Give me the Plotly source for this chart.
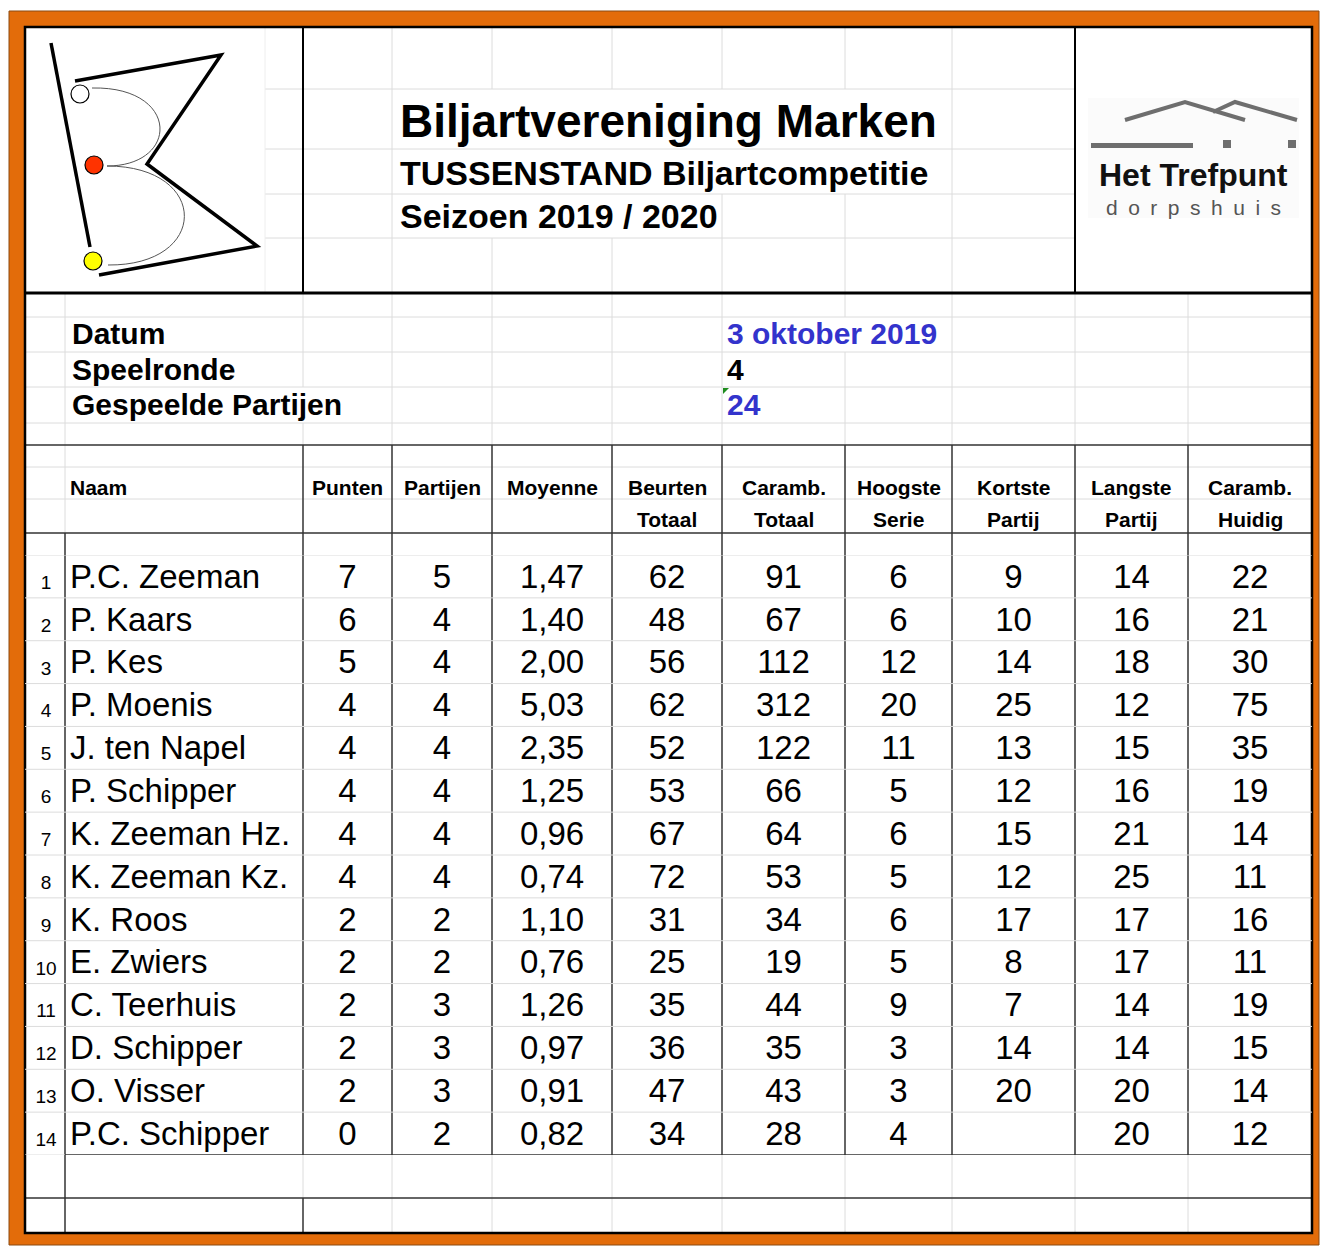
import plotly.graph_objects as go

# ---------------- data ----------------
ranks = [1, 2, 3, 4, 5, 6, 7, 8, 9, 10, 11, 12, 13, 14]
names = ["P.C. Zeeman", "P. Kaars", "P. Kes", "P. Moenis", "J. ten Napel", "P. Schipper",
         "K. Zeeman Hz.", "K. Zeeman Kz.", "K. Roos", "E. Zwiers", "C. Teerhuis",
         "D. Schipper", "O. Visser", "P.C. Schipper"]
punten = [7, 6, 5, 4, 4, 4, 4, 4, 2, 2, 2, 2, 2, 0]
partijen = [5, 4, 4, 4, 4, 4, 4, 4, 2, 2, 3, 3, 3, 2]
moyenne = [1.47, 1.40, 2.00, 5.03, 2.35, 1.25, 0.96, 0.74, 1.10, 0.76, 1.26, 0.97, 0.91, 0.82]
beurten_totaal = [62, 48, 56, 62, 52, 53, 67, 72, 31, 25, 35, 36, 47, 34]
caramb_totaal = [91, 67, 112, 312, 122, 66, 64, 53, 34, 19, 44, 35, 43, 28]
hoogste_serie = [6, 6, 12, 20, 11, 5, 6, 5, 6, 5, 9, 3, 3, 4]
kortste_partij = [9, 10, 14, 25, 13, 12, 15, 12, 17, 8, 7, 14, 20, None]
langste_partij = [14, 16, 18, 12, 15, 16, 21, 25, 17, 17, 14, 14, 20, 20]
caramb_huidig = [22, 21, 30, 75, 35, 19, 14, 11, 16, 11, 19, 15, 14, 12]

header_top = ["Naam", "Punten", "Partijen", "Moyenne", "Beurten", "Caramb.", "Hoogste",
              "Kortste", "Langste", "Caramb."]
header_bottom = ["", "", "", "", "Totaal", "Totaal", "Serie", "Partij", "Partij", "Huidig"]

title_lines = ["Biljartvereniging Marken", "TUSSENSTAND Biljartcompetitie", "Seizoen 2019 / 2020"]
info_labels = ["Datum", "Speelronde", "Gespeelde Partijen"]
info_values = ["3 oktober 2019", "4", "24"]

# ---------------- layout constants ----------------
W, H = 1320, 1246
FONT = "Liberation Sans, Arial, sans-serif"
ORANGE = "#E36C0A"
GRID = "#DCDCDC"
DARK = "#333333"
BLUE = "#3333CC"
L, R, T, B = 25, 1312, 27, 1233
col_bounds = [303, 392, 492, 612, 722, 845, 952, 1075, 1188, 1312]
col_centers = [(a + b) / 2 for a, b in zip(col_bounds[:-1], col_bounds[1:])]
DATA_TOP, DATA_BOT = 555, 1155
TXT_SHIFT = 0.07  # small downward nudge of row text (in rows)

shapes = []


def seg(x0, y0, x1, y1, color, width, yref="y"):
    shapes.append(dict(type="line", x0=x0, y0=y0, x1=x1, y1=y1, xref="x", yref=yref,
                       line=dict(color=color, width=width), layer="below"))


# orange frame + white sheet
shapes.append(dict(type="rect", x0=9, y0=11, x1=1319, y1=1245, xref="x", yref="y",
                   fillcolor=ORANGE, line=dict(color="#8A4A12", width=1), layer="below"))
shapes.append(dict(type="rect", x0=L, y0=T, x1=R, y1=B, xref="x", yref="y",
                   fillcolor="white", line=dict(width=0), layer="below"))

# ---- gridlines: top (title) section ----
top_rows = [27, 89, 149, 194, 238, 293]
for y in top_rows[1:-1]:
    seg(303, y, 1075, y, GRID, 1)
    seg(265, y, 303, y, GRID, 1)
seg(265, 27, 265, 293, "#EEEEEE", 1)
hidden_top = {1: {492, 612, 722, 845}, 2: {492, 612, 722, 845}, 3: {492, 612}}
for x in [392, 492, 612, 722, 845, 952]:
    for i in range(len(top_rows) - 1):
        if x in hidden_top.get(i, set()):
            continue
        seg(x, top_rows[i], x, top_rows[i + 1], GRID, 1)

# ---- gridlines: info section ----
info_rows = [293, 317, 352, 387, 423, 445]
for y in info_rows[1:-1]:
    seg(L, y, R, y, GRID, 1)
hidden_info = {1: {845}, 3: {303}}
for x in [65] + col_bounds[:-1]:
    for i in range(len(info_rows) - 1):
        if x in hidden_info.get(i, set()):
            continue
        seg(x, info_rows[i], x, info_rows[i + 1], GRID, 1)

# ---- gridlines: header section ----
for y in [467, 499]:
    seg(L, y, R, y, GRID, 1)
seg(65, 445, 65, 533, GRID, 1)

# ---- data rows gridlines (on the row axis) ----
for k in range(len(ranks)):
    seg(L, k - 0.5, R, k - 0.5, GRID, 1, yref="y2")
seg(L, len(ranks) - 0.5, 65, len(ranks) - 0.5, GRID, 1, yref="y2")

# ---- bottom empty rows ----
seg(303, 1155, 303, 1198, GRID, 1)
for x in col_bounds[1:-1]:
    seg(x, 1155, x, B, GRID, 1)

# ---- black structure lines ----
seg(L, 293, R, 293, "black", 3)
seg(303, T, 303, 293, "black", 2)
seg(1075, T, 1075, 293, "black", 2)
seg(L, 445, R, 445, DARK, 1.5)
seg(L, 533, R, 533, DARK, 1.5)
for x in col_bounds[:-1]:
    seg(x, 445, x, DATA_BOT, DARK, 1.5)
seg(65, 533, 65, B, DARK, 1.5)
seg(65, len(ranks) - 0.5, R, len(ranks) - 0.5, DARK, 1.5, yref="y2")
seg(L, 1198, R, 1198, DARK, 1.5)
seg(303, 1198, 303, B, DARK, 1.5)
shapes.append(dict(type="rect", x0=L, y0=T, x1=R, y1=B, xref="x", yref="y",
                   line=dict(color="black", width=2.5), layer="below"))

# green corner marker
shapes.append(dict(type="path", path="M 723 388 L 729 388 L 723 394 Z", xref="x", yref="y",
                   fillcolor="#1E8C1E", line=dict(width=0), layer="below"))

# ---- club logo (B with balls) ----
logo_line = dict(color="black", width=3.5)
shapes.append(dict(type="line", x0=51, y0=43, x1=90, y1=247, xref="x", yref="y",
                   line=logo_line, layer="below"))
shapes.append(dict(type="path", path="M 75 81 L 221 55 L 147 164 L 257 246 L 99 275",
                   xref="x", yref="y", line=logo_line, layer="below"))
shapes.append(dict(type="path", path="M 92 88 C 180 86 180 166 107 166",
                   xref="x", yref="y", line=dict(color="#555555", width=1), layer="below"))
shapes.append(dict(type="path", path="M 107 166 C 210 166 210 266 108 265",
                   xref="x", yref="y", line=dict(color="#555555", width=1), layer="below"))
for cx, cy, col in [(80, 94, "white"), (94, 165, "#FF3300"), (93, 261, "#FFFF00")]:
    shapes.append(dict(type="circle", x0=cx - 9, y0=cy - 9, x1=cx + 9, y1=cy + 9,
                       xref="x", yref="y", fillcolor=col,
                       line=dict(color="black", width=1.2), layer="below"))

# ---- Het Trefpunt logo ----
shapes.append(dict(type="rect", x0=1088, y0=98, x1=1299, y1=218, xref="x", yref="y",
                   fillcolor="#FBFBFB", line=dict(width=0), layer="below"))
roof = dict(color="#6E6E6E", width=4)
shapes.append(dict(type="path", path="M 1125 120 L 1185 102 L 1245 120",
                   xref="x", yref="y", line=roof, layer="below"))
shapes.append(dict(type="path", path="M 1213 112 L 1235 102 L 1297 120",
                   xref="x", yref="y", line=roof, layer="below"))
for x0, x1 in [(1091, 1193), (1223, 1231), (1288, 1296)]:
    shapes.append(dict(type="rect", x0=x0, y0=140 if x1 - x0 < 20 else 143, x1=x1, y1=148,
                       xref="x", yref="y", fillcolor="#6E6E6E", line=dict(width=0),
                       layer="below"))

# ---------------- figure ----------------
fig = go.Figure()

row_idx = list(range(len(ranks)))
fig.add_trace(go.Scatter(
    x=[46] * len(ranks), y=[i + 0.18 for i in row_idx], text=[str(r) for r in ranks],
    mode="text", textposition="middle center", xaxis="x", yaxis="y2",
    textfont=dict(family=FONT, size=19, color="black"), hoverinfo="skip"))
fig.add_trace(go.Scatter(
    x=[70] * len(ranks), y=[i + TXT_SHIFT for i in row_idx], text=names,
    mode="text", textposition="middle right", xaxis="x", yaxis="y2",
    textfont=dict(family=FONT, size=33, color="black"), hoverinfo="skip"))

columns = [
    [str(v) for v in punten],
    [str(v) for v in partijen],
    [f"{v:.2f}".replace(".", ",") for v in moyenne],
    [str(v) for v in beurten_totaal],
    [str(v) for v in caramb_totaal],
    [str(v) for v in hoogste_serie],
    ["" if v is None else str(v) for v in kortste_partij],
    [str(v) for v in langste_partij],
    [str(v) for v in caramb_huidig],
]
for cx, texts in zip(col_centers, columns):
    fig.add_trace(go.Scatter(
        x=[cx] * len(texts), y=[i + TXT_SHIFT for i in row_idx], text=texts,
        mode="text", textposition="middle center", xaxis="x", yaxis="y2",
        textfont=dict(family=FONT, size=33, color="black"), hoverinfo="skip"))

annotations = []


def txt(x, y, s, size, color="black", weight="bold", anchor="left", family=FONT):
    annotations.append(dict(x=x, y=y, xref="x", yref="y", text=s, showarrow=False,
                            xanchor=anchor, yanchor="middle",
                            font=dict(family=family, size=size, color=color, weight=weight)))


# titles
txt(398, 121, title_lines[0], 46)
txt(398, 173, title_lines[1], 34)
txt(398, 216, title_lines[2], 34)

# info block
for y, lab, val, col in zip([333, 369, 404], info_labels, info_values, [BLUE, "black", BLUE]):
    txt(70, y, lab, 30)
    txt(725, y, val, 30, color=col)

# headers
txt(68, 487, header_top[0], 21)
for cx, top, bot in zip(col_centers, header_top[1:], header_bottom[1:]):
    txt(cx, 487, top, 21, anchor="center")
    if bot:
        txt(cx, 519, bot, 21, anchor="center")

# Het Trefpunt text
txt(1193, 175, "Het Trefpunt", 32, color="#111111", anchor="center")
txt(1193, 207, "d\u2002o\u2002r\u2002p\u2002s\u2002h\u2002u\u2002i\u2002s", 21,
    color="#555555", weight="normal", anchor="center")

fig.update_layout(
    width=W, height=H, margin=dict(l=0, r=0, t=0, b=0),
    paper_bgcolor="white", plot_bgcolor="rgba(0,0,0,0)",
    showlegend=False,
    xaxis=dict(range=[0, W], visible=False, fixedrange=True, domain=[0, 1]),
    yaxis=dict(range=[H, 0], visible=False, fixedrange=True, domain=[0, 1]),
    yaxis2=dict(range=[len(ranks) - 0.5, -0.5], visible=False, fixedrange=True, anchor="x",
                domain=[1 - DATA_BOT / H, 1 - DATA_TOP / H]),
    shapes=shapes, annotations=annotations,
)

fig.write_html("out.html", config={"displayModeBar": False, "staticPlot": True},
               post_script="document.body.style.margin='0';")
